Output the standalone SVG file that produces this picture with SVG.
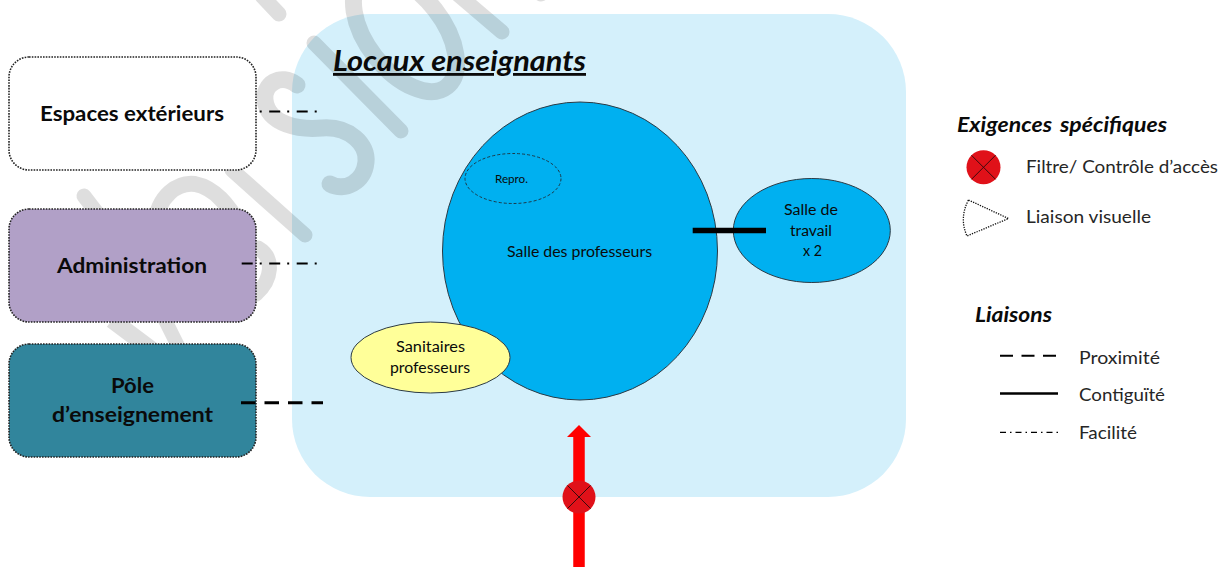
<svg xmlns="http://www.w3.org/2000/svg" width="1220" height="567" viewBox="0 0 1220 567">
<style>
text{font-family:Lato,"Open Sans","Liberation Sans",sans-serif;fill:#0a0a0a;text-anchor:start}
.b{font-weight:700}
.bi{font-weight:700;font-style:italic}
.big{font-size:21px}
.mid{font-size:15.5px}
.leg{font-size:17.5px;fill:#262626}
.box{stroke:#222;stroke-width:1.6;stroke-dasharray:1.6 1.2}
.room{stroke:#2b3a44;stroke-width:1}
.wm{fill:none;stroke:#000;stroke-opacity:.13;stroke-width:15;stroke-linecap:round}
.x{stroke:#3a0a0c;stroke-width:1;fill:none}
.red{fill:#E01119}
</style>
<rect width="1220" height="567" fill="#fff"/>
<g id="panel"><rect x="292" y="14" width="614" height="483" rx="78" ry="78" fill="#D4F0FB"/></g>
<g id="watermark">
<path class="wm" d="M262 -4 L279 14"/>
<path class="wm" d="M314 43 L401 131"/>
<ellipse class="wm" style="stroke-width:17" cx="405" cy="33" rx="68" ry="38" transform="rotate(52 405 33)"/>
<path class="wm" d="M455 -8 L502 32"/>
<path class="wm" d="M535 -10 L541 -6"/>
<path class="wm" style="stroke-width:17" d="M297 85 C280 72 263 85 265 100 C268 125 300 130 322 128 C350 126 368 145 366 162 C364 182 345 192 330 184"/>
<path class="wm" d="M232 170 L305 235"/>
<path class="wm" style="stroke-width:16" d="M155 225 C158 195 178 182 195 184 C215 188 228 205 240 225"/>
<path class="wm" d="M84 196 L110 230"/>
<path class="wm" d="M258 248 C275 258 272 280 256 294"/>
<path class="wm" style="stroke-linecap:butt;stroke-width:17" d="M112 320 L152 350"/>
<path class="wm" style="stroke-linecap:butt;stroke-width:14" d="M164 318 L180 350"/>
</g>
<g id="espaces-exterieurs">
<rect class="box" x="9" y="57" width="247" height="113" rx="20" fill="#fff"/>
<text class="b big" x="40" y="121" textLength="184" lengthAdjust="spacingAndGlyphs">Espaces extérieurs</text>
</g>
<g id="administration">
<rect class="box" x="9" y="209" width="247" height="113" rx="20" fill="#B1A0C7"/>
<text class="b big" x="57" y="273" textLength="150" lengthAdjust="spacingAndGlyphs">Administration</text>
</g>
<g id="pole-enseignement">
<rect class="box" x="9" y="344" width="247" height="113" rx="20" fill="#31859C"/>
<text class="b big" x="111" y="393" textLength="43" lengthAdjust="spacingAndGlyphs">Pôle</text>
<text class="b big" x="52" y="422" textLength="161" lengthAdjust="spacingAndGlyphs">d’enseignement</text>
</g>
<g id="title">
<text class="bi" style="font-size:28px" x="333" y="71" textLength="253" lengthAdjust="spacingAndGlyphs" text-decoration="underline">Locaux enseignants</text>
</g>
<g id="salle-professeurs">
<ellipse class="room" cx="580" cy="251" rx="137.5" ry="149" fill="#00B0F0"/>
<text class="mid" x="507" y="257" textLength="145" lengthAdjust="spacingAndGlyphs">Salle des professeurs</text>
</g>
<g id="repro">
<ellipse cx="513" cy="178.5" rx="48" ry="25" fill="none" stroke="#1c3a4a" stroke-width="1" stroke-dasharray="3 2"/>
<text style="font-size:10.5px" x="495" y="183" textLength="33" lengthAdjust="spacingAndGlyphs">Repro.</text>
</g>
<g id="salle-travail">
<ellipse class="room" cx="811.8" cy="230.5" rx="78.5" ry="52" fill="#00B0F0"/>
<text class="mid" x="784" y="215" textLength="54" lengthAdjust="spacingAndGlyphs">Salle de</text>
<text class="mid" x="790" y="236" textLength="42" lengthAdjust="spacingAndGlyphs">travail</text>
<text class="mid" x="803" y="256" textLength="19" lengthAdjust="spacingAndGlyphs">x 2</text>
</g>
<g id="sanitaires">
<ellipse class="room" cx="430.5" cy="357.5" rx="79.5" ry="35.5" fill="#FFFF99"/>
<text class="mid" x="396" y="352" textLength="69" lengthAdjust="spacingAndGlyphs">Sanitaires</text>
<text class="mid" x="390" y="373" textLength="80" lengthAdjust="spacingAndGlyphs">professeurs</text>
</g>
<g id="connectors" fill="none" stroke="#000">
<path d="M259.5 111.5 H317" stroke-width="2" stroke-dasharray="11 7 2 7.5" stroke-dashoffset="17.8"/>
<path d="M241.7 263.5 H317" stroke-width="2" stroke-dasharray="11 7 2 7.5"/>
<path d="M241 402.7 H323" stroke-width="3" stroke-dasharray="14.5 9"/>
<path d="M692.7 230.5 H766" stroke-width="5.5"/>
<path d="M579 567 V436" stroke="#FF0000" stroke-width="11.5"/>
<path d="M579 425 L591 437 H567 Z" fill="#FF0000" stroke="none"/>
</g>
<g id="filtre-acces">
<circle class="red" cx="579" cy="497" r="16.5"/>
<path class="x" d="M567.5 485.5 L590.5 508.5 M590.5 485.5 L567.5 508.5"/>
</g>
<g id="legende-exigences">
<text class="bi" style="font-size:20px" y="132"><tspan x="957" textLength="95" lengthAdjust="spacingAndGlyphs">Exigences</tspan> <tspan x="1060" textLength="107" lengthAdjust="spacingAndGlyphs">spécifiques</tspan></text>
<circle class="red" cx="983.5" cy="167.3" r="17"/>
<path class="x" d="M971.5 155.3 L995.5 179.3 M995.5 155.3 L971.5 179.3"/>
<text class="leg" x="1026" y="173" textLength="192" lengthAdjust="spacingAndGlyphs">Filtre/ Contrôle d’accès</text>
<path d="M968.5 200 L1008.5 218.5 L967 236 Q959 218 968.5 200 Z" fill="none" stroke="#111" stroke-width="1.3" stroke-dasharray="1.3 1.2"/>
<text class="leg" x="1026" y="223" textLength="125" lengthAdjust="spacingAndGlyphs">Liaison visuelle</text>
</g>
<g id="legende-liaisons">
<text class="bi" style="font-size:20px" x="975" y="322" textLength="77" lengthAdjust="spacingAndGlyphs">Liaisons</text>
<path d="M1000 355.7 H1058" fill="none" stroke="#000" stroke-width="2" stroke-dasharray="13 8.5"/>
<text class="leg" x="1079" y="364" textLength="81" lengthAdjust="spacingAndGlyphs">Proximité</text>
<path d="M1000 393.5 H1058" fill="none" stroke="#000" stroke-width="2.5"/>
<text class="leg" x="1079" y="401" textLength="86" lengthAdjust="spacingAndGlyphs">Contiguïté</text>
<path d="M1000 432.3 H1058" fill="none" stroke="#000" stroke-width="1.3" stroke-dasharray="6 4 1.5 4"/>
<text class="leg" x="1079" y="439" textLength="58" lengthAdjust="spacingAndGlyphs">Facilité</text>
</g>
</svg>
